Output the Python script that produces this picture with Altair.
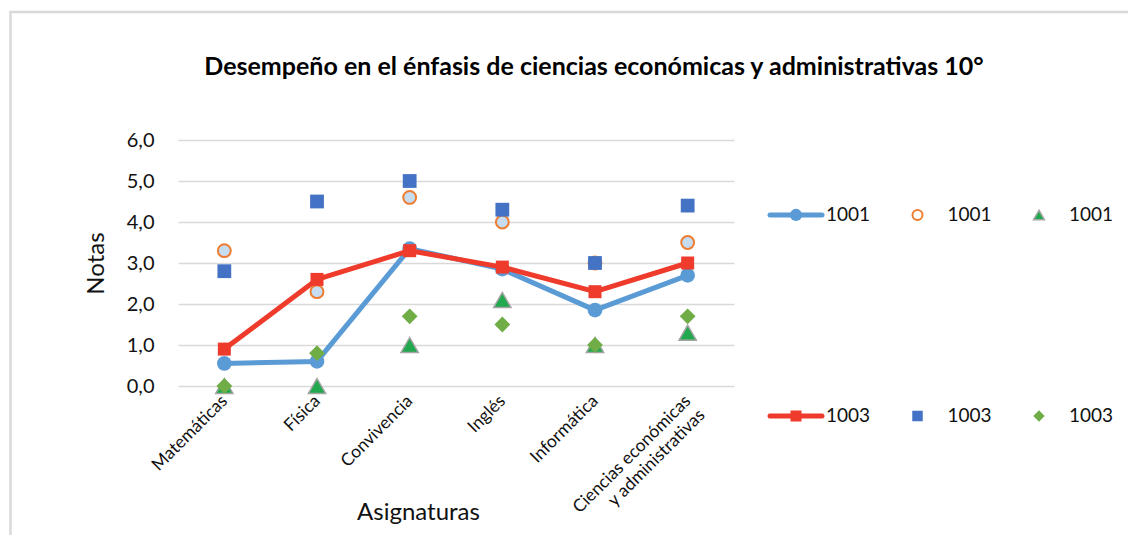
import altair as alt
import pandas as pd

# ---------------- data ----------------
asignaturas = ["Matemáticas", "Física", "Convivencia", "Inglés", "Informática",
               "Ciencias económicas y administrativas"]
linea_1001 = [0.55, 0.6, 3.35, 2.85, 1.85, 2.7]
circulo_1001 = [3.3, 2.3, 4.6, 4.0, 3.0, 3.5]
triangulo_1001 = [0.0, 0.0, 1.0, 2.1, 1.0, 1.3]
linea_1003 = [0.9, 2.6, 3.3, 2.9, 2.3, 3.0]
cuadrado_1003 = [2.8, 4.5, 5.0, 4.3, 3.0, 4.4]
rombo_1003 = [0.0, 0.8, 1.7, 1.5, 1.0, 1.7]
y_ticks = [0, 1, 2, 3, 4, 5, 6]

titulo = "Desempeño en el énfasis de ciencias económicas y administrativas 10°"
titulo_x = "Asignaturas"
titulo_y = "Notas"

serie_ids = ["l1001", "o1001", "t1001", "l1003", "s1003", "d1003"]
serie_valores = [linea_1001, circulo_1001, triangulo_1001,
                 linea_1003, cuadrado_1003, rombo_1003]

leyenda_etiquetas = ["1001", "1001", "1001", "1003", "1003", "1003"]
leyenda_col = [0, 1, 2, 0, 1, 2]
leyenda_fila = [0, 0, 0, 1, 1, 1]

# ---------------- styles ----------------
FONT = "Lato"
TXT = "#111111"
BLUE_LINE = "#5B9BD5"
RED = "#EE3B2B"
ORANGE = "#ED7D31"
LIGHT = "#C6DCF1"
GREEN_T = "#22A84E"
GREY = "#A5A5A5"
BLUE_SQ = "#4472C4"
GREEN_D = "#70AD47"
FRAME = "#D9D9D9"

estilos = {
    "l1001": dict(shape="circle", fill=BLUE_LINE, stroke=BLUE_LINE, sw=0, size=215, lsize=150, linea=BLUE_LINE),
    "o1001": dict(shape="circle", fill=LIGHT, stroke=ORANGE, sw=2, size=165, lfill="#FFFFFF", lsize=100),
    "t1001": dict(shape="triangle-up", fill=GREEN_T, stroke=GREY, sw=1.5, size=300, lsize=120),
    "l1003": dict(shape="square", fill=RED, stroke=RED, sw=0, size=169, lsize=121, linea=RED),
    "s1003": dict(shape="square", fill=BLUE_SQ, stroke=BLUE_SQ, sw=0, size=190, lsize=110),
    "d1003": dict(shape="diamond", fill=GREEN_D, stroke=GREEN_D, sw=0, size=250, lsize=130),
}

# ---------------- tables ----------------
rows = []
for sid, vals in zip(serie_ids, serie_valores):
    for a, v in zip(asignaturas, vals):
        rows.append({"asignatura": a, "serie": sid, "nota": v})
df = pd.DataFrame(rows)

df_leg = pd.DataFrame({"serie": serie_ids, "etiqueta": leyenda_etiquetas,
                       "col": leyenda_col, "fila": leyenda_fila})

# ---------------- main panel ----------------
label_expr_x = ("datum.label == 'Ciencias económicas y administrativas' ? "
                "['Ciencias económicas', 'y administrativas'] : datum.label")

base = alt.Chart(df).encode(
    x=alt.X("asignatura:N", sort=asignaturas,
            scale=alt.Scale(type="point", padding=0.5),
            axis=alt.Axis(title=titulo_x, labelAngle=-45, labelAlign="right",
                          labelBaseline="middle", labelPadding=12,
                          labelFontSize=17.5, labelFont=FONT, labelColor=TXT,
                          labelLimit=400, labelLineHeight=20,
                          labelExpr=label_expr_x,
                          domain=False, ticks=False, grid=False,
                          titleFont=FONT, titleFontSize=24, titleFontWeight="normal",
                          titleColor=TXT, titleX=240, titleY=133,
                          titleAlign="center", titleBaseline="alphabetic")),
    y=alt.Y("nota:Q", scale=alt.Scale(domain=[0, 6], nice=False, zero=True),
            axis=alt.Axis(title=titulo_y, values=y_ticks,
                          labelExpr="replace(format(datum.value, '.1f'), '.', ',')",
                          labelFont=FONT, labelFontSize=20, labelColor=TXT,
                          labelPadding=24, domain=False, ticks=False,
                          grid=True, gridColor="#D9D9D9", gridWidth=1.5,
                          titleFont=FONT, titleFontSize=24, titleFontWeight="normal",
                          titleColor=TXT, titlePadding=18)),
)


def puntos(sid):
    e = estilos[sid]
    return base.transform_filter(alt.datum.serie == sid).mark_point(
        filled=True, shape=e["shape"], size=e["size"], fill=e["fill"],
        stroke=e["stroke"], strokeWidth=e["sw"], opacity=1)


def linea(sid):
    e = estilos[sid]
    return base.transform_filter(alt.datum.serie == sid).mark_line(
        color=e["linea"], strokeWidth=5, strokeJoin="round", strokeCap="round")


marco_izq = alt.Chart(alt.Data(values=[{}])).mark_rule(
    color=FRAME, strokeWidth=2.5).encode(
    x=alt.value(-167.5), y=alt.value(-128), y2=alt.value(395))
marco_sup = alt.Chart(alt.Data(values=[{}])).mark_rule(
    color=FRAME, strokeWidth=2.5).encode(
    x=alt.value(-168.75), x2=alt.value(950), y=alt.value(-128))

titulo_txt = alt.Chart(alt.Data(values=[{"t": titulo}])).mark_text(
    font=FONT, fontWeight="bold", fontSize=25, align="center",
    baseline="alphabetic", color="#000000").encode(
    text="t:N", x=alt.value(416), y=alt.value(-65))

panel = alt.layer(
    linea("l1001"), puntos("l1001"), puntos("o1001"), puntos("t1001"),
    linea("l1003"), puntos("l1003"), puntos("s1003"), puntos("d1003"),
    marco_izq, marco_sup, titulo_txt,
).properties(width=556, height=246)

# ---------------- legend panel ----------------
base_leg = alt.Chart(df_leg).encode(
    x=alt.X("col:Q", scale=alt.Scale(domain=[0, 2], nice=False, zero=False), axis=None),
    y=alt.Y("fila:O", scale=alt.Scale(type="point", padding=0.3731), axis=None),
)

capas_leg = []
for sid in serie_ids:
    e = estilos[sid]
    f = base_leg.transform_filter(alt.datum.serie == sid)
    if "linea" in e:
        capas_leg.append(f.mark_rule(color=e["linea"], strokeWidth=5, strokeCap="round",
                                     xOffset=-26, x2Offset=26).encode(x2="col:Q"))
    capas_leg.append(f.mark_point(
        filled=True, shape=e["shape"], size=e["lsize"], fill=e.get("lfill", e["fill"]),
        stroke=e["stroke"], strokeWidth=e["sw"], opacity=1))
capas_leg.append(base_leg.mark_text(align="left", baseline="middle", dx=30,
                                    font=FONT, fontSize=19, color=TXT).encode(text="etiqueta:N"))

leyenda = alt.layer(*capas_leg).properties(width=243, height=351)

chart = alt.hconcat(panel, leyenda, spacing=62, bounds="flush").properties(
    padding={"left": 0, "top": 2, "right": 0, "bottom": 0},
    background="white",
).configure(font=FONT).configure_view(stroke=None)

chart.save("out.html", embed_options={"renderer": "svg", "actions": False})
